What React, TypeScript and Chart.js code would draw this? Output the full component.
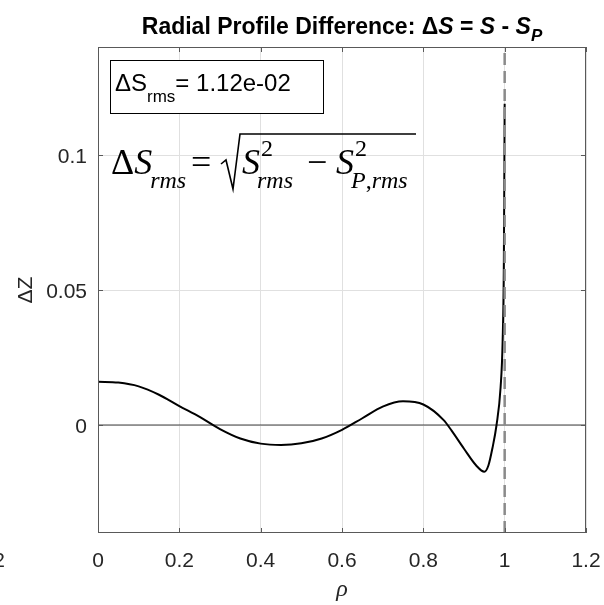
import React, { useEffect, useRef } from 'react';
import { Chart, registerables } from 'chart.js';

Chart.register(...registerables);

// ---- data ----
const rho = [0, 0.05, 0.1, 0.15, 0.2, 0.25, 0.3, 0.35, 0.4, 0.45, 0.5, 0.55, 0.6, 0.65, 0.7, 0.75, 0.8, 0.85, 0.87, 0.9, 0.93, 0.95, 0.96, 0.97, 0.98, 0.99, 0.995, 0.998, 1.0];
const deltaS = [0.016, 0.0157, 0.0143, 0.0112, 0.007, 0.003, -0.0015, -0.005, -0.0069, -0.0074, -0.0068, -0.005, -0.0018, 0.0025, 0.0068, 0.0088, 0.0076, 0.0018, -0.0022, -0.0088, -0.015, -0.0173, -0.015, -0.0085, 0.0, 0.014, 0.031, 0.06, 0.119];
const xTicks = [0, 0.2, 0.4, 0.6, 0.8, 1, 1.2];
const yTicks = [0, 0.05, 0.1];
const xRange = [0, 1.2];
const yRange = [-0.04, 0.14];
const boundaryRho = 1;
const rmsValue = '1.12e-02';
const titlePrefix = 'Radial Profile Difference: ';

const SANS = '"Liberation Sans", Arial, sans-serif';
const SERIF = '"Liberation Serif", "Times New Roman", serif';
const TXT = '#262626';

function fmt(v: number): string {
  const r = Math.round(v * 1000) / 1000;
  return String(r);
}

type Run = { t: string; font: string; dy?: number; dx?: number };
function drawRuns(ctx: CanvasRenderingContext2D, runs: Run[], x: number, y: number, align: 'left' | 'center' = 'left') {
  let total = 0;
  for (const r of runs) { ctx.font = r.font; total += ctx.measureText(r.t).width + (r.dx || 0); }
  let cx = align === 'center' ? x - total / 2 : x;
  for (const r of runs) {
    ctx.font = r.font;
    cx += r.dx || 0;
    ctx.fillText(r.t, cx, y + (r.dy || 0));
    cx += ctx.measureText(r.t).width;
  }
  return cx;
}

const overlay = {
  id: 'overlay',
  afterDraw(chart: any) {
    const { ctx, chartArea: a, scales } = chart;
    const xs = scales.x, ys = scales.y;
    ctx.save();
    // box
    ctx.strokeStyle = '#595959';
    ctx.lineWidth = 1;
    ctx.strokeRect(Math.round(a.left) + 0.5, Math.round(a.top) + 0.5, Math.round(a.right - a.left) - 1, Math.round(a.bottom - a.top) - 1);
    // ticks
    ctx.beginPath();
    for (const v of xTicks) {
      const px = Math.round(xs.getPixelForValue(v)) + 0.5;
      ctx.moveTo(px, a.bottom); ctx.lineTo(px, a.bottom - 5);
      ctx.moveTo(px, a.top); ctx.lineTo(px, a.top + 5);
    }
    for (const v of yTicks) {
      const py = Math.round(ys.getPixelForValue(v)) + 0.5;
      ctx.moveTo(a.left, py); ctx.lineTo(a.left + 5, py);
      ctx.moveTo(a.right, py); ctx.lineTo(a.right - 5, py);
    }
    ctx.stroke();

    // tick labels
    ctx.fillStyle = TXT;
    ctx.font = `21px ${SANS}`;
    ctx.textBaseline = 'alphabetic';
    ctx.textAlign = 'center';
    for (const v of xTicks) {
      ctx.fillText(fmt(v), xs.getPixelForValue(v), a.bottom + 34);
    }
    ctx.textAlign = 'right';
    for (const v of yTicks) {
      ctx.fillText(fmt(v), a.left - 11, ys.getPixelForValue(v) + 7.5);
    }
    // clipped label from neighbouring axes
    ctx.fillText('1.2', 5, a.bottom + 34);

    // axis titles
    ctx.textAlign = 'center';
    ctx.font = `italic 24px ${SERIF}`;
    ctx.fillText('\u03C1', (a.left + a.right) / 2, 596);
    ctx.save();
    ctx.translate(32, (a.top + a.bottom) / 2);
    ctx.rotate(-Math.PI / 2);
    ctx.font = `21px ${SANS}`;
    ctx.fillText('\u0394Z', 0, 0);
    ctx.restore();

    // title
    ctx.textAlign = 'left';
    ctx.fillStyle = '#000';
    const b = `bold 23px ${SANS}`;
    const bi = `italic bold 23px ${SANS}`;
    drawRuns(ctx, [
      { t: titlePrefix, font: b },
      { t: '\u0394', font: b },
      { t: 'S', font: bi },
      { t: ' = ', font: b },
      { t: 'S', font: bi },
      { t: ' - ', font: b },
      { t: 'S', font: bi },
      { t: 'P', font: `italic bold 17px ${SANS}`, dy: 7 },
    ], (a.left + a.right) / 2, 34, 'center');

    // rms text box
    ctx.fillStyle = '#fff';
    ctx.fillRect(110, 60, 213, 53);
    ctx.strokeStyle = '#000';
    ctx.strokeRect(110.5, 60.5, 213, 53);
    ctx.fillStyle = '#000';
    drawRuns(ctx, [
      { t: '\u0394S', font: `24px ${SANS}` },
      { t: 'rms', font: `17px ${SANS}`, dy: 11 },
      { t: '= ' + rmsValue, font: `24px ${SANS}` },
    ], 115, 91);

    // equation
    const M = `36px ${SERIF}`;
    const MI = `italic 36px ${SERIF}`;
    const SI = `italic 24px ${SERIF}`;
    const S = `24px ${SERIF}`;
    const base = 174;
    let x = drawRuns(ctx, [{ t: '\u0394', font: M }, { t: 'S', font: MI }], 111, base);
    drawRuns(ctx, [{ t: 'rms', font: SI }], x - 2, base + 14);
    drawRuns(ctx, [{ t: '=', font: M }], 191, base);
    // radical
    ctx.beginPath();
    ctx.lineWidth = 1.6;
    ctx.strokeStyle = '#000';
    ctx.moveTo(221, 164);
    ctx.lineTo(226, 160);
    ctx.lineTo(233, 189);
    ctx.lineTo(240, 134);
    ctx.lineTo(416, 134);
    ctx.stroke();
    x = drawRuns(ctx, [{ t: 'S', font: MI }], 242, base);
    drawRuns(ctx, [{ t: '2', font: S }], x + 1, base - 18);
    drawRuns(ctx, [{ t: 'rms', font: SI }], x - 3, base + 14);
    drawRuns(ctx, [{ t: '\u2212', font: M }], 307, base);
    x = drawRuns(ctx, [{ t: 'S', font: MI }], 336, base);
    drawRuns(ctx, [{ t: '2', font: S }], x + 1, base - 18);
    drawRuns(ctx, [{ t: 'P', font: SI }, { t: ',', font: S }, { t: 'rms', font: SI }], x - 3, base + 14);

    ctx.restore();
  },
};

export default function App() {
  const ref = useRef<HTMLCanvasElement | null>(null);
  useEffect(() => {
    document.body.style.margin = '0';
    const canvas = ref.current;
    if (!canvas) return;
    const chart = new Chart(canvas, {
      type: 'line',
      data: {
        datasets: [
          {
            label: 'boundary',
            data: [{ x: boundaryRho, y: yRange[0] }, { x: boundaryRho, y: yRange[1] }],
            borderColor: '#8a8a8a',
            borderWidth: 2.5,
            borderDash: [12, 6],
            pointRadius: 0,
            order: 0,
          },
          {
            label: 'dS',
            data: rho.map((r, i) => ({ x: r, y: deltaS[i] })),
            borderColor: '#000',
            borderWidth: 2,
            pointRadius: 0,
            cubicInterpolationMode: 'monotone',
            order: 1,
          },
          {
            label: 'zero',
            data: [{ x: xRange[0], y: 0 }, { x: xRange[1], y: 0 }],
            borderColor: '#404040',
            borderWidth: 1,
            pointRadius: 0,
            order: 2,
          },
        ],
      },
      options: {
        responsive: false,
        animation: false,
        devicePixelRatio: 1,
        layout: { padding: { left: 0, right: 18, top: 47, bottom: 0 } },
        plugins: { legend: { display: false }, tooltip: { enabled: false }, title: { display: false } },
        scales: {
          x: {
            type: 'linear',
            min: xRange[0],
            max: xRange[1],
            afterBuildTicks: (s: any) => { s.ticks = xTicks.map((v) => ({ value: v })); },
            afterFit: (s: any) => { s.height = 72; },
            ticks: { display: false },
            grid: { color: '#e0e0e0', drawTicks: false, lineWidth: 1 },
            border: { display: false },
          },
          y: {
            type: 'linear',
            min: yRange[0],
            max: yRange[1],
            afterBuildTicks: (s: any) => { s.ticks = yTicks.map((v) => ({ value: v })); },
            afterFit: (s: any) => { s.width = 98; },
            ticks: { display: false },
            grid: { color: '#e0e0e0', drawTicks: false, lineWidth: 1 },
            border: { display: false },
          },
        },
      },
      plugins: [overlay],
    } as any);
    return () => chart.destroy();
  }, []);
  return (
    <div style={{ width: 604, height: 605, background: '#fff' }}>
      <canvas ref={ref} width={604} height={605} style={{ width: 604, height: 605, display: 'block' }} />
    </div>
  );
}
